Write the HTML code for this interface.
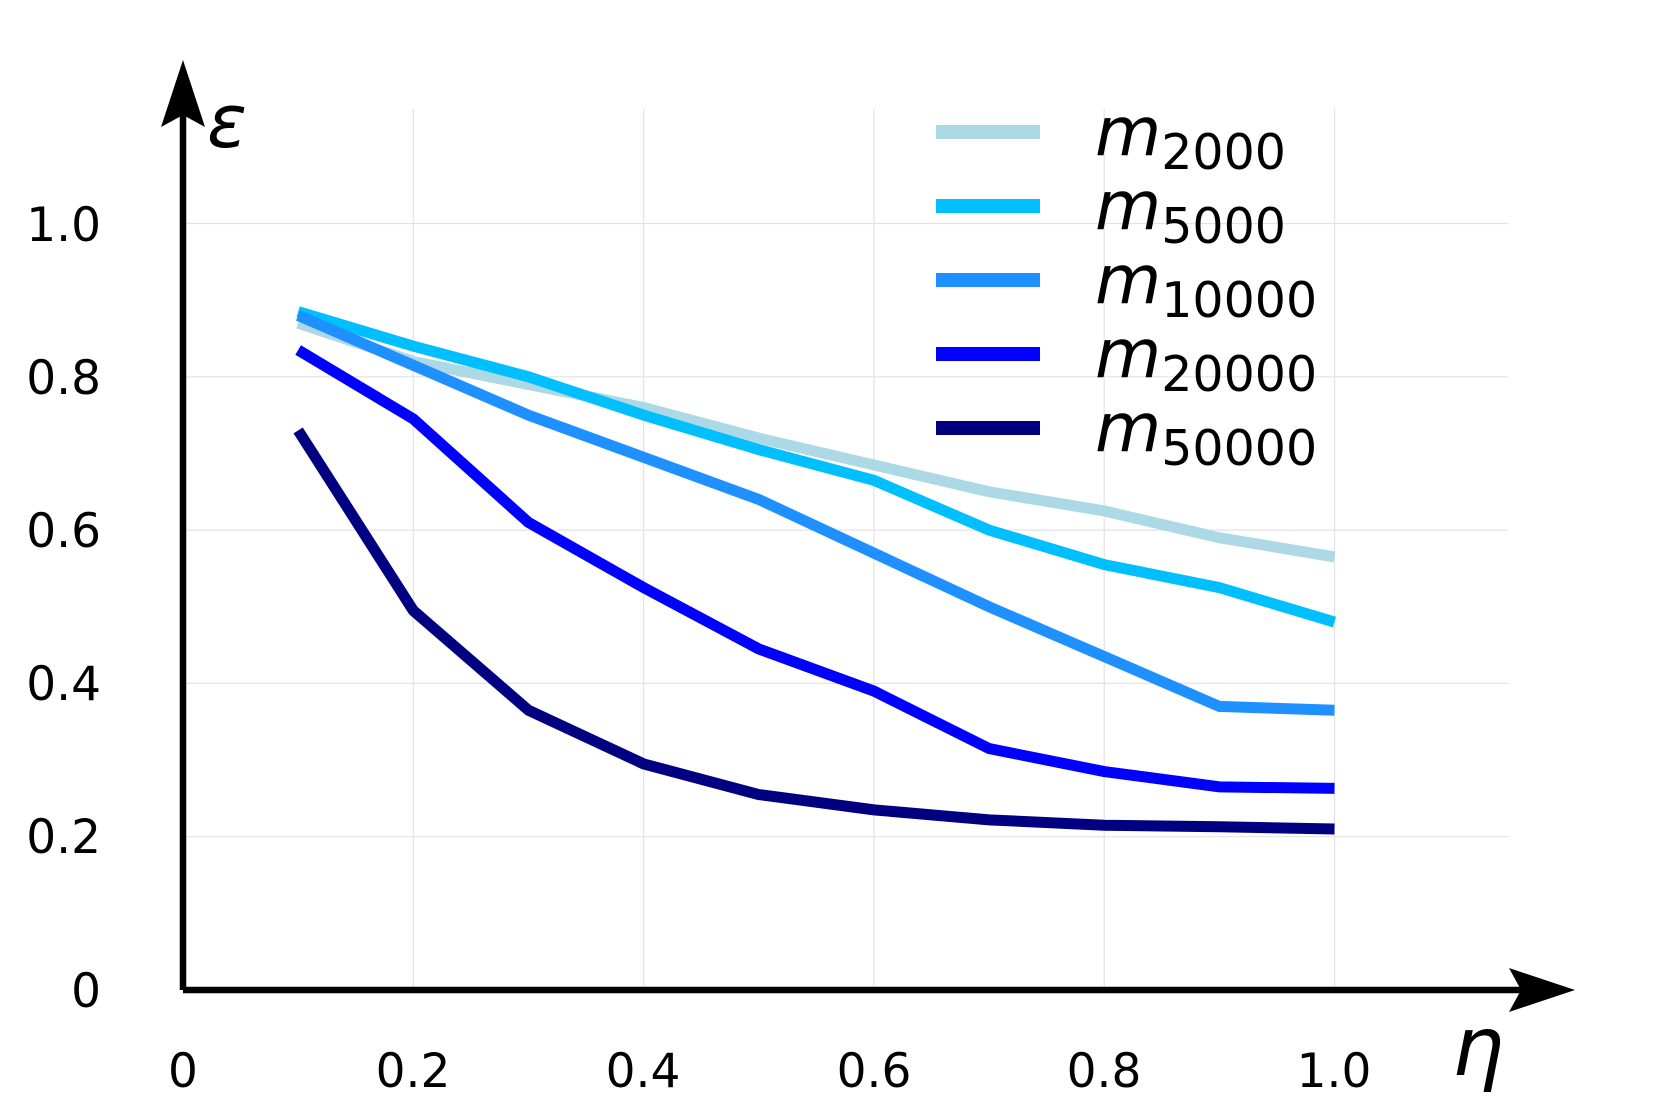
<!DOCTYPE html><html><head><style>body{margin:0;background:#fff}svg{display:block}</style></head><body>
<svg id="s" width="1659" height="1120" xmlns="http://www.w3.org/2000/svg" font-family="'DejaVu Sans','Liberation Sans',sans-serif">
<g id="grid" stroke="#e3e3e3" stroke-width="1.2"></g>
<g id="series" fill="none" stroke-width="11" stroke-linejoin="miter"></g>
<line x1="183" y1="990" x2="183" y2="115" stroke="#000" stroke-width="6.5"/>
<polygon points="183,60 205,127 183,115 161,127" fill="#000"/>
<line x1="183" y1="990" x2="1530" y2="990" stroke="#000" stroke-width="6.5"/>
<polygon points="1575,990 1509,1012 1521,990 1509,968" fill="#000"/>
<g font-size="47" fill="#000" text-anchor="end">
<text x="101" y="1007">0</text><text x="101" y="853">0.2</text><text x="101" y="700">0.4</text><text x="101" y="547">0.6</text><text x="101" y="394">0.8</text><text x="101" y="241">1.0</text></g>
<g font-size="47" fill="#000" text-anchor="middle">
<text x="183" y="1087">0</text><text x="413" y="1087">0.2</text><text x="643" y="1087">0.4</text><text x="874" y="1087">0.6</text><text x="1104" y="1087">0.8</text><text x="1334" y="1087">1.0</text></g>
<text x="207" y="147" font-size="74" font-style="italic">ε</text>
<text x="1452" y="1075" font-size="82" font-style="italic">η</text>
<g id="leg"></g>
</svg>
<script>
var ns="http://www.w3.org/2000/svg",g=document.getElementById('grid'),se=document.getElementById('series'),lg=document.getElementById('leg');
function X(v){return 183+v*1151.5}function Y(v){return 990-v*766.5}
function el(p,t,a){var e=document.createElementNS(ns,t);for(var k in a)e.setAttribute(k,a[k]);p.appendChild(e);return e}
for(var i=1;i<=5;i++){el(g,'line',{x1:X(i*0.2),x2:X(i*0.2),y1:109,y2:990});el(g,'line',{x1:183,x2:1508,y1:Y(i*0.2),y2:Y(i*0.2)});}
var D=[["#add8e6","2000",[.87,.82,.79,.76,.72,.685,.65,.625,.59,.565]],
["#00bfff","5000",[.885,.84,.80,.75,.705,.665,.60,.555,.525,.48]],
["#1e90ff","10000",[.88,.815,.75,.695,.64,.57,.5,.435,.37,.365]],
["#0000ff","20000",[.835,.745,.61,.525,.445,.39,.315,.285,.265,.263]],
["#000080","50000",[.73,.495,.365,.295,.255,.235,.222,.215,.213,.21]]];
D.forEach(function(d,j){var p=d[2].map(function(v,i){return X((i+1)/10)+","+Y(v)}).join(" ");
el(se,'polyline',{points:p,stroke:d[0]});
var y=132+j*74;el(lg,'line',{x1:936,x2:1040,y1:y,y2:y,stroke:d[0],'stroke-width':14});
var t=el(lg,'text',{x:1095,y:y+23,'font-size':68,'font-style':'italic'});t.textContent='m';
var s=el(t,'tspan',{'font-size':49,'font-style':'normal',dy:14});s.textContent=d[1];});
</script>
</body></html>
